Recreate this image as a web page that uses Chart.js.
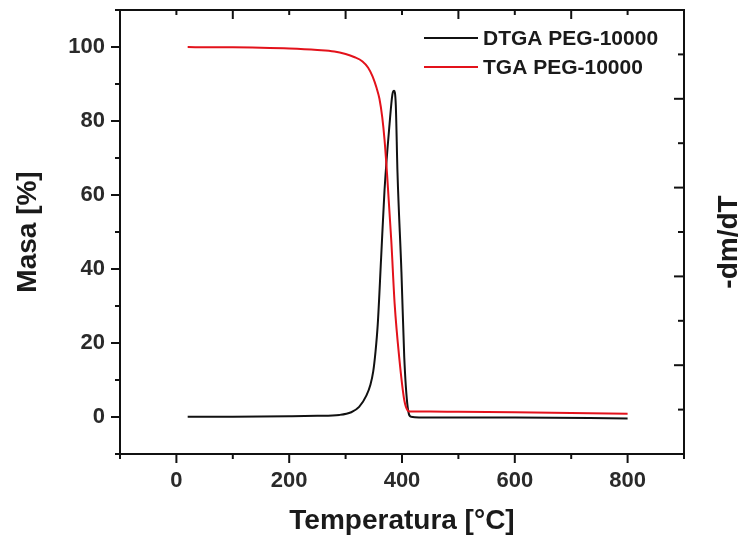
<!DOCTYPE html>
<html>
<head>
<meta charset="utf-8">
<script src="https://cdn.jsdelivr.net/npm/chart.js@4.4.0/dist/chart.umd.min.js"></script>
<style>
  html, body { margin: 0; padding: 0; background: #fff; }
</style>
</head>
<body>
<canvas id="tgaChart" width="738" height="541"></canvas>
<script>
// TGA curve, mass in %
const tgaTemp = [20, 60, 100, 150, 200, 250, 280, 300, 315, 330, 340, 348, 355, 360, 365, 369, 374, 381, 387, 395, 404, 410, 414, 450, 500, 600, 700, 800];
const tgaMass = [100.0, 99.9, 99.9, 99.8, 99.6, 99.2, 98.8, 98.1, 97.3, 96.1, 94.4, 92.0, 88.9, 86.0, 81.0, 75.0, 64.5, 47.7, 30.5, 16.2, 4.6, 1.8, 1.5, 1.5, 1.4, 1.3, 1.1, 0.9];

// DTGA curve, -dm/dT (right axis, arbitrary units)
const dtgaTemp = [20, 100, 200, 250, 289, 310, 324, 337, 344, 349, 353, 357, 363, 369, 378, 383, 386, 389, 392, 399, 404, 410, 416, 450, 600, 800];
const dtgaVal = [0.42, 0.42, 0.425, 0.43, 0.44, 0.47, 0.53, 0.66, 0.78, 0.93, 1.15, 1.46, 2.21, 2.97, 3.72, 4.05, 4.09, 3.93, 3.17, 2.05, 1.09, 0.53, 0.42, 0.41, 0.41, 0.40];

const xTickValues = [0, 200, 400, 600, 800];
const yTickValues = [0, 20, 40, 60, 80, 100];
const seriesLabels = ["DTGA PEG-10000", "TGA PEG-10000"];
const seriesColors = ["#111111", "#e3121b"];

const FONT = "'Liberation Sans', Arial, sans-serif";
Chart.defaults.font.family = FONT;

function tick(ctx, x1, y1, x2, y2) {
    ctx.beginPath();
    ctx.moveTo(x1, y1);
    ctx.lineTo(x2, y2);
    ctx.stroke();
}

// frame, tick marks on all four sides, legend and right title
const framePlugin = {
    id: "frame",
    afterDraw(chart) {
        const ctx = chart.ctx;
        const a = chart.chartArea;
        const xs = chart.scales.x, ys = chart.scales.y, y2 = chart.scales.y2;
        ctx.save();
        ctx.strokeStyle = "#111";
        ctx.lineWidth = 2;
        ctx.strokeRect(a.left, a.top, a.right - a.left, a.bottom - a.top);

        for (let v = -100; v <= 900; v += 100) {
            const px = xs.getPixelForValue(v);
            const major = v % 200 === 0;
            tick(ctx, px, a.bottom, px, a.bottom + (major ? 9 : 5));
            tick(ctx, px, a.top, px, a.top + (major ? 5 : 9));
        }
        for (let v = -10; v <= 110; v += 10) {
            const py = ys.getPixelForValue(v);
            tick(ctx, a.left - (v % 20 === 0 ? 9 : 5), py, a.left, py);
        }
        for (let v = 0; v <= 5; v += 0.5) {
            const py = y2.getPixelForValue(v);
            tick(ctx, a.right - (v % 1 === 0 ? 10 : 6), py, a.right, py);
        }

        // legend
        ctx.font = "bold 21px " + FONT;
        ctx.textAlign = "left";
        ctx.textBaseline = "middle";
        seriesLabels.forEach((label, i) => {
            const ly = 38 + i * 29;
            ctx.strokeStyle = seriesColors[i];
            tick(ctx, 424, ly, 478, ly);
            ctx.fillStyle = "#1a1a1a";
            ctx.fillText(label, 483, ly + 1);
        });

        // right axis title, reads bottom to top
        ctx.translate(729, 242);
        ctx.rotate(-Math.PI / 2);
        ctx.font = "bold 28px " + FONT;
        ctx.textAlign = "center";
        ctx.fillStyle = "#1a1a1a";
        ctx.fillText("-dm/dT", 0, 0);
        ctx.restore();
    }
};

new Chart(document.getElementById("tgaChart"), {
    type: "line",
    data: {
        datasets: [
            {
                label: seriesLabels[0],
                data: dtgaTemp.map((t, i) => ({ x: t, y: dtgaVal[i] })),
                yAxisID: "y2",
                borderColor: seriesColors[0],
                borderWidth: 2,
                pointRadius: 0,
                cubicInterpolationMode: "monotone",
                order: 1
            },
            {
                label: seriesLabels[1],
                data: tgaTemp.map((t, i) => ({ x: t, y: tgaMass[i] })),
                yAxisID: "y",
                borderColor: seriesColors[1],
                borderWidth: 2,
                pointRadius: 0,
                cubicInterpolationMode: "monotone",
                order: 0
            }
        ]
    },
    options: {
        responsive: false,
        animation: false,
        layout: { padding: { top: 10, left: 0, right: 0, bottom: 0 } },
        plugins: {
            legend: { display: false },
            tooltip: { enabled: false }
        },
        scales: {
            x: {
                type: "linear",
                min: -100,
                max: 900,
                afterBuildTicks: s => { s.ticks = xTickValues.map(v => ({ value: v })); },
                afterFit: s => { s.height = 87; s.paddingLeft = 0; s.paddingRight = 0; },
                grid: { display: false, drawTicks: false },
                border: { display: false },
                ticks: {
                    color: "#2a2a2a",
                    font: { size: 22, weight: "bold" },
                    padding: 14,
                    maxRotation: 0,
                    autoSkip: false
                },
                title: {
                    display: true,
                    text: "Temperatura [°C]",
                    color: "#1a1a1a",
                    font: { size: 28, weight: "bold" },
                    padding: { top: 0, bottom: 3 }
                }
            },
            y: {
                position: "left",
                min: -10,
                max: 110,
                afterBuildTicks: s => { s.ticks = yTickValues.map(v => ({ value: v })); },
                afterFit: s => { s.width = 120; s.paddingTop = 0; s.paddingBottom = 0; },
                grid: { display: false, drawTicks: false },
                border: { display: false },
                ticks: {
                    color: "#2a2a2a",
                    font: { size: 22, weight: "bold" },
                    padding: 15
                },
                title: {
                    display: true,
                    text: "Masa [%]",
                    color: "#1a1a1a",
                    font: { size: 28, weight: "bold" },
                    padding: { top: 11, bottom: 0 }
                }
            },
            y2: {
                position: "right",
                min: 0,
                max: 5,
                afterFit: s => { s.width = 54; s.paddingTop = 0; s.paddingBottom = 0; },
                grid: { display: false, drawTicks: false },
                border: { display: false },
                ticks: { display: false }
            }
        }
    },
    plugins: [framePlugin]
});
</script>
</body>
</html>
